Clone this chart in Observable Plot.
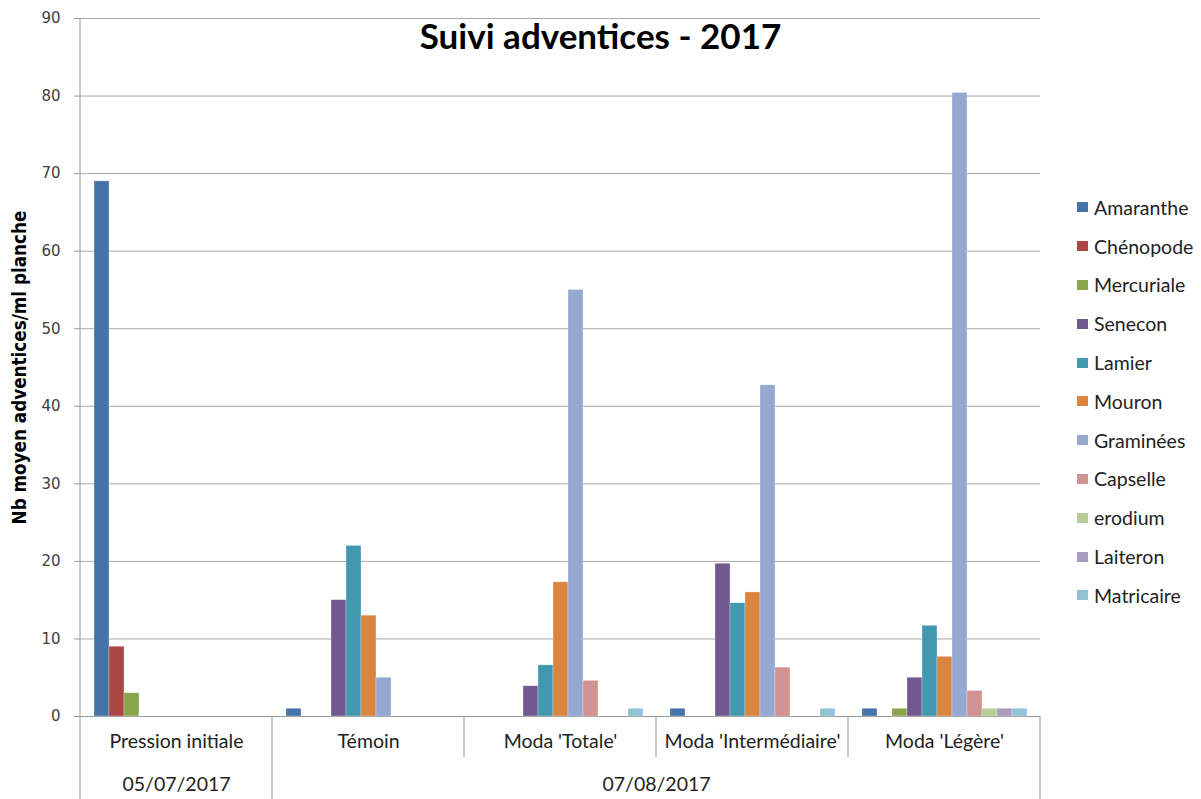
<!DOCTYPE html>
<html><head><meta charset="utf-8">
<script src="https://cdn.jsdelivr.net/npm/d3@7"></script>
<script src="https://cdn.jsdelivr.net/npm/@observablehq/plot@0.6"></script>
<style>
body{margin:0;background:#fff;}
#wrap{position:relative;width:1201px;height:799px;overflow:hidden;font-family:Lato,sans-serif;}
#title{position:absolute;left:0;top:14px;width:1201px;text-align:center;font-weight:bold;font-size:35px;font-family:Lato,sans-serif;color:#000;line-height:1.2;}
#legend{position:absolute;left:1077px;top:188px;}
.li{height:38.8px;display:flex;align-items:center;font-size:19.5px;color:#222;font-family:Lato,sans-serif;}
.sw{width:11px;height:10px;margin-right:6px;flex:none;}
</style></head><body>
<div id="wrap"><div id="chart"></div><div id="title">Suivi adventices - 2017</div><div id="legend"></div></div>
<script>
const groups = ["Pression initiale", "Témoin", "Moda 'Totale'", "Moda 'Intermédiaire'", "Moda 'Légère'"];
const dates = ["05/07/2017", "07/08/2017"];
const species = ["Amaranthe", "Chénopode", "Mercuriale", "Senecon", "Lamier", "Mouron", "Graminées", "Capselle", "erodium", "Laiteron", "Matricaire"];
const colors = ["#4572A7", "#AA4643", "#89A54E", "#71588F", "#4198AF", "#DB843D", "#93A9CF", "#D19392", "#B9CD96", "#A99BBD", "#92C3D4"];
const amaranthe  = [69, 1, 0, 1, 1];
const chenopode  = [9, 0, 0, 0, 0];
const mercuriale = [3, 0, 0, 0, 1];
const senecon    = [0, 15, 3.9, 19.7, 5];
const lamier     = [0, 22, 6.6, 14.6, 11.7];
const mouron     = [0, 13, 17.3, 16, 7.7];
const graminees  = [0, 5, 55, 42.7, 80.4];
const capselle   = [0, 0, 4.6, 6.3, 3.3];
const erodium    = [0, 0, 0, 0, 1];
const laiteron   = [0, 0, 0, 0, 1];
const matricaire = [0, 0, 1, 1, 1];
const yTicks = [0, 10, 20, 30, 40, 50, 60, 70, 80, 90];
const yLabel = "Nb moyen adventices/ml planche";
const title = "Suivi adventices - 2017";

const series = [amaranthe, chenopode, mercuriale, senecon, lamier, mouron, graminees, capselle, erodium, laiteron, matricaire];
const table = [];
groups.forEach((g, gi) => species.forEach((s, si) => table.push({group: g, species: s, value: series[si][gi]})));

const plot = Plot.plot({
  width: 1201, height: 799,
  marginLeft: 78, marginRight: 159, marginTop: 18, marginBottom: 83,
  style: {fontFamily: "Lato, sans-serif", background: "white", color: "#222", overflow: "visible"},
  fx: {domain: groups, padding: 0, label: null, axis: null},
  x: {domain: species, paddingInner: 0, paddingOuter: 0.72, axis: null},
  y: {domain: [0, 90], axis: null},
  color: {domain: species, range: colors},
  marks: [
    Plot.gridY(yTicks, {stroke: "#a8a8a8", strokeOpacity: 1}),
    Plot.ruleY([0], {stroke: "#999"}),
    Plot.barY(table, {fx: "group", x: "species", y: "value", fill: "species", stroke: "white", strokeWidth: 0.6, strokeOpacity: 0.5}),
    Plot.axisY(yTicks, {tickSize: 6, tickPadding: 14, label: null, stroke: "#999", fill: "#404040", fontSize: 15, fontFamily: "DejaVu Sans"}),
    Plot.text(groups, {fx: d => d, text: d => d, frameAnchor: "bottom", dy: 31, fontSize: 19.5, fill: "#222"}),
    Plot.text([dates[0]], {fx: () => groups[0], text: d => d, frameAnchor: "bottom", dy: 74, fontSize: 19.5, fill: "#222"}),
    Plot.text([dates[1]], {fx: () => groups[3], text: d => d, frameAnchor: "bottom-left", textAnchor: "middle", dy: 74, fontSize: 19.5, fill: "#222"}),
    Plot.text([yLabel], {fx: () => groups[0], text: d => d, frameAnchor: "left", textAnchor: "middle", rotate: -90, dx: -60, fontSize: 15, fontWeight: "bold", fontFamily: "DejaVu Sans Condensed, DejaVu Sans", fill: "#000"})
  ]
});
document.getElementById("chart").appendChild(plot);

// separator lines of the two-level category axis, derived from the fx scale
const fx = plot.scale("fx");
const y = plot.scale("y");
const yTop = y.apply ? y.apply(90) : 18;
const y0 = y.apply ? y.apply(0) : 716;
const n = groups.length;
const step = (fx.range[1] - fx.range[0]) / n;
const left = (i) => (fx.apply && i < n) ? fx.apply(groups[i]) : fx.range[0] + i * step;
const H = 799;
const seps = [];
seps.push({x: left(0), y1: yTop, y2: H});
for (let i = 1; i < n; i++) seps.push({x: left(i), y1: y0, y2: i === 1 ? H : y0 + 41});
seps.push({x: left(n - 1) + (fx.bandwidth || step), y1: y0, y2: H});
d3.select(plot).append("g").attr("stroke", "#999").attr("stroke-width", 1)
  .selectAll("line").data(seps).join("line")
  .attr("x1", d => d.x).attr("x2", d => d.x).attr("y1", d => d.y1).attr("y2", d => d.y2);

// size the y label so that its length matches the reference (~314px)
d3.select(plot).selectAll("text").filter(function(){ return this.textContent === yLabel; })
  .each(function(){
    const len = this.getComputedTextLength();
    if (len > 0) this.setAttribute("font-size", (15 * 314 / len).toFixed(2));
  });

const lg = d3.select("#legend");
species.forEach((s, i) => {
  const row = lg.append("div").attr("class", "li");
  row.append("div").attr("class", "sw").style("background", colors[i]);
  row.append("span").text(s);
});
</script>
</body></html>
